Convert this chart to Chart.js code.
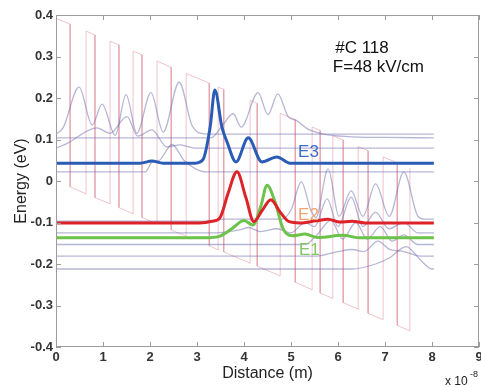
<!DOCTYPE html>
<html>
<head>
<meta charset="utf-8">
<script src="https://cdn.jsdelivr.net/npm/chart.js@4.4.1/dist/chart.umd.min.js"></script>
<style>
  html, body { margin: 0; padding: 0; background: #fff; }
  #wrap { width: 481px; height: 387px; }
</style>
</head>
<body>
<div id="wrap"><canvas id="chart" width="481" height="387"></canvas></div>
<script>
// distance in units of 1e-8 m, energy in eV
const xTicks = [0, 1, 2, 3, 4, 5, 6, 7, 8, 9];
const yTicks = [-0.4, -0.3, -0.2, -0.1, 0, 0.1, 0.2, 0.3, 0.4];
const yTickLabels = ['-0.4', '-0.3', '-0.2', '-0.1', '0', '0.1', '0.2', '0.3', '0.4'];

// conduction band edge under bias: barrier tops / well bottoms
const bandEdge = [
  [0, 0.392], [0.30, 0.378], [0.30, -0.014], [0.64, -0.031], [0.64, 0.361], [0.83, 0.352],
  [0.83, -0.040], [1.15, -0.055], [1.15, 0.337], [1.34, 0.328], [1.34, -0.064], [1.64, -0.079],
  [1.64, 0.313], [1.83, 0.304], [1.83, -0.088], [2.15, -0.103], [2.15, 0.289], [2.45, 0.274],
  [2.45, -0.118], [2.77, -0.133], [2.77, 0.259], [3.26, 0.236], [3.26, -0.156], [3.45, -0.166],
  [3.45, 0.226], [3.57, 0.221], [3.57, -0.171], [4.13, -0.198], [4.13, 0.194], [4.28, 0.187],
  [4.28, -0.205], [4.77, -0.229], [4.77, 0.163], [5.09, 0.148], [5.09, -0.244], [5.45, -0.262],
  [5.45, 0.130], [5.62, 0.122], [5.62, -0.270], [5.89, -0.283], [5.89, 0.109], [6.11, 0.099],
  [6.11, -0.293], [6.43, -0.309], [6.43, 0.083], [6.64, 0.073], [6.64, -0.319], [6.96, -0.334],
  [6.96, 0.058], [7.26, 0.044], [7.26, -0.348], [7.53, -0.361], [7.53, 0.031]
];

// laser levels, |psi|^2 drawn on top of the level energy
const stateE3 = [
  [0, 0.043], [1.79, 0.043], [2.04, 0.048], [2.28, 0.043], [2.96, 0.043], [3.13, 0.052],
  [3.28, 0.13], [3.38, 0.219], [3.53, 0.13], [3.64, 0.094], [3.83, 0.046], [4.09, 0.104],
  [4.38, 0.046], [4.70, 0.058], [4.98, 0.043], [8.04, 0.043]
];
const stateE2 = [
  [0, -0.101], [3.06, -0.101], [3.32, -0.097], [3.49, -0.088], [3.66, -0.03], [3.85, 0.022],
  [4.04, -0.04], [4.21, -0.098], [4.38, -0.072], [4.57, -0.045], [4.77, -0.075], [4.96, -0.098],
  [5.19, -0.101], [5.53, -0.096], [5.79, -0.092], [6.04, -0.099], [6.30, -0.097], [6.57, -0.101],
  [8.04, -0.101]
];
const stateE1 = [
  [0, -0.137], [3.17, -0.137], [3.49, -0.133], [3.74, -0.115], [4.0, -0.095], [4.19, -0.106],
  [4.36, -0.06], [4.49, -0.01], [4.66, -0.05], [4.83, -0.115], [5.02, -0.132], [5.30, -0.128],
  [5.57, -0.136], [6.11, -0.131], [6.47, -0.137], [8.04, -0.137]
];

// injector / miniband states
const stateU1 = [
  [0, 0.113], [0.15, 0.128], [0.49, 0.226], [0.77, 0.135], [0.98, 0.185], [1.26, 0.110],
  [1.49, 0.208], [1.72, 0.115], [2.02, 0.213], [2.28, 0.118], [2.62, 0.238], [2.89, 0.135],
  [3.11, 0.114], [3.38, 0.113], [8.04, 0.113]
];
const stateU2 = [
  [0, 0.104], [3.3, 0.104], [3.55, 0.135], [3.77, 0.162], [3.94, 0.13], [4.30, 0.213],
  [4.51, 0.16], [4.72, 0.21], [4.94, 0.155], [5.11, 0.146], [5.36, 0.125], [5.7, 0.113],
  [6.2, 0.107], [7.0, 0.105], [8.04, 0.104]
];
const stateU3 = [
  [0, 0.079], [0.23, 0.09], [0.87, 0.128], [1.15, 0.115], [1.51, 0.155], [1.74, 0.108],
  [2.04, 0.123], [2.36, 0.082], [2.64, 0.087], [2.98, 0.079], [8.04, 0.079]
];
const stateU4 = [
  [0, 0.022], [1.9, 0.022], [2.04, 0.045], [2.2, 0.05], [2.47, 0.088], [2.72, 0.05],
  [2.96, 0.03], [3.2, 0.022], [8.04, 0.022]
];
const stateR1 = [
  [0, -0.097], [3.2, -0.097], [3.6, -0.092], [4.8, -0.092], [5.0, -0.07], [5.22, -0.002],
  [5.42, -0.07], [5.53, -0.088], [5.79, 0.029], [6.02, -0.085], [6.28, -0.024], [6.53, -0.085],
  [6.8, -0.007], [7.09, -0.085], [7.4, 0.022], [7.7, -0.085], [7.85, -0.092], [8.04, -0.092]
];
const stateR2 = [
  [0, -0.125], [3.4, -0.125], [3.9, -0.118], [4.1, -0.112], [4.35, -0.122], [4.7, -0.115],
  [5.0, -0.125], [5.3, -0.1], [5.5, -0.11], [5.77, -0.043], [6.0, -0.11], [6.28, -0.039],
  [6.53, -0.11], [6.8, -0.075], [7.08, -0.115], [7.4, -0.1], [7.7, -0.125], [8.04, -0.125]
];
const stateR3 = [
  [0, -0.153], [5.3, -0.153], [5.55, -0.13], [5.85, -0.095], [6.1, -0.14], [6.38, -0.1],
  [6.62, -0.14], [6.9, -0.11], [7.15, -0.145], [7.4, -0.13], [7.7, -0.153], [8.04, -0.153]
];
const stateR4 = [
  [0, -0.181], [5.5, -0.181], [6.0, -0.17], [6.3, -0.165], [6.55, -0.17], [6.85, -0.145],
  [7.1, -0.165], [7.4, -0.17], [7.75, -0.181], [8.04, -0.181]
];
const stateR5 = [
  [0, -0.212], [6.3, -0.212], [6.8, -0.2], [7.1, -0.185], [7.45, -0.158], [7.75, -0.19],
  [8.0, -0.212], [8.04, -0.212]
];

const FONT = 'Liberation Sans, Arial, Helvetica, sans-serif';
const thinColor = 'rgba(110,110,175,0.5)';

const toPoints = pairs => pairs.map(([x, y]) => ({ x, y }));

function wave(pairs, color, width, order) {
  return {
    data: toPoints(pairs),
    borderColor: color,
    borderWidth: width,
    pointRadius: 0,
    fill: false,
    cubicInterpolationMode: 'monotone',
    order: order
  };
}

const datasets = [
  wave(stateE3, '#2b5cb5', 3, 0),
  wave(stateE2, '#dd2228', 3, 0),
  wave(stateE1, '#6cc24a', 3, 0),
  wave(stateU1, thinColor, 1.3, 1),
  wave(stateU2, thinColor, 1.3, 1),
  wave(stateU3, thinColor, 1.3, 1),
  wave(stateU4, thinColor, 1.3, 1),
  wave(stateR1, thinColor, 1.3, 1),
  wave(stateR2, thinColor, 1.3, 1),
  wave(stateR3, thinColor, 1.3, 1),
  wave(stateR4, thinColor, 1.3, 1),
  wave(stateR5, thinColor, 1.3, 1),
  {
    data: toPoints(bandEdge),
    borderColor: 'rgba(220,125,140,0.45)',
    borderWidth: 1,
    pointRadius: 0,
    fill: false,
    tension: 0,
    order: 2
  }
];

// box around the plot with inward ticks, plus the text notes
const frameAndNotes = {
  id: 'frameAndNotes',
  afterDatasetsDraw(chart) {
    const { ctx, chartArea: a, scales: { x, y } } = chart;
    const tick = 5;
    ctx.save();
    ctx.strokeStyle = '#9c9c9c';
    ctx.lineWidth = 1;
    ctx.strokeRect(a.left + 0.5, a.top + 0.5, a.right - a.left - 1, a.bottom - a.top - 1);
    ctx.beginPath();
    xTicks.forEach(v => {
      const px = Math.round(x.getPixelForValue(v)) + 0.5;
      ctx.moveTo(px, a.bottom); ctx.lineTo(px, a.bottom - tick);
      ctx.moveTo(px, a.top); ctx.lineTo(px, a.top + tick);
    });
    yTicks.forEach(v => {
      const py = Math.round(y.getPixelForValue(v)) + 0.5;
      ctx.moveTo(a.left, py); ctx.lineTo(a.left + tick, py);
      ctx.moveTo(a.right, py); ctx.lineTo(a.right - tick, py);
    });
    ctx.stroke();

    ctx.textBaseline = 'alphabetic';
    ctx.textAlign = 'left';
    ctx.font = '17px ' + FONT;
    ctx.fillStyle = '#111';
    ctx.fillText('#C 118', x.getPixelForValue(5.94), y.getPixelForValue(0.308));
    ctx.fillText('F=48 kV/cm', x.getPixelForValue(5.89), y.getPixelForValue(0.262));

    ctx.fillStyle = '#3a6cc4';
    ctx.fillText('E3', x.getPixelForValue(5.15), y.getPixelForValue(0.058));
    ctx.fillStyle = '#f2a56e';
    ctx.fillText('E2', x.getPixelForValue(5.15), y.getPixelForValue(-0.094));
    ctx.fillStyle = '#80c864';
    ctx.fillText('E1', x.getPixelForValue(5.17), y.getPixelForValue(-0.178));

    // axis multiplier
    ctx.fillStyle = '#222';
    ctx.font = '12px ' + FONT;
    ctx.fillText('x 10', 445, 385);
    ctx.font = '9px ' + FONT;
    ctx.fillText('-8', 470, 377);
    ctx.restore();
  }
};

new Chart(document.getElementById('chart'), {
  type: 'line',
  data: { datasets: datasets },
  options: {
    responsive: false,
    animation: false,
    devicePixelRatio: 1,
    layout: { padding: { top: 15, right: 2, left: 0, bottom: 0 } },
    plugins: { legend: { display: false }, tooltip: { enabled: false } },
    scales: {
      x: {
        type: 'linear',
        min: 0,
        max: 9,
        afterBuildTicks: s => { s.ticks = xTicks.map(v => ({ value: v })); },
        afterFit: s => { s.height = 40; s.paddingLeft = 0; s.paddingRight = 0; },
        grid: { display: false, drawTicks: false },
        border: { display: false },
        ticks: {
          padding: 3,
          autoSkip: false,
          maxRotation: 0,
          color: '#333',
          font: { family: FONT, size: 13, weight: 'bold' }
        },
        title: {
          display: true,
          text: 'Distance (m)',
          color: '#222',
          font: { family: FONT, size: 16 },
          padding: { top: 0, bottom: 4 }
        }
      },
      y: {
        type: 'linear',
        min: -0.4,
        max: 0.4,
        afterBuildTicks: s => { s.ticks = yTicks.map(v => ({ value: v })); },
        afterFit: s => { s.width = 56; s.paddingTop = 0; s.paddingBottom = 0; },
        grid: { display: false, drawTicks: false },
        border: { display: false },
        ticks: {
          padding: 3,
          color: '#333',
          font: { family: FONT, size: 13, weight: 'bold' },
          callback: v => yTickLabels[yTicks.indexOf(v)]
        },
        title: {
          display: true,
          text: 'Energy (eV)',
          color: '#222',
          font: { family: FONT, size: 16 },
          padding: { top: 12, bottom: 0 }
        }
      }
    }
  },
  plugins: [frameAndNotes]
});
</script>
</body>
</html>
